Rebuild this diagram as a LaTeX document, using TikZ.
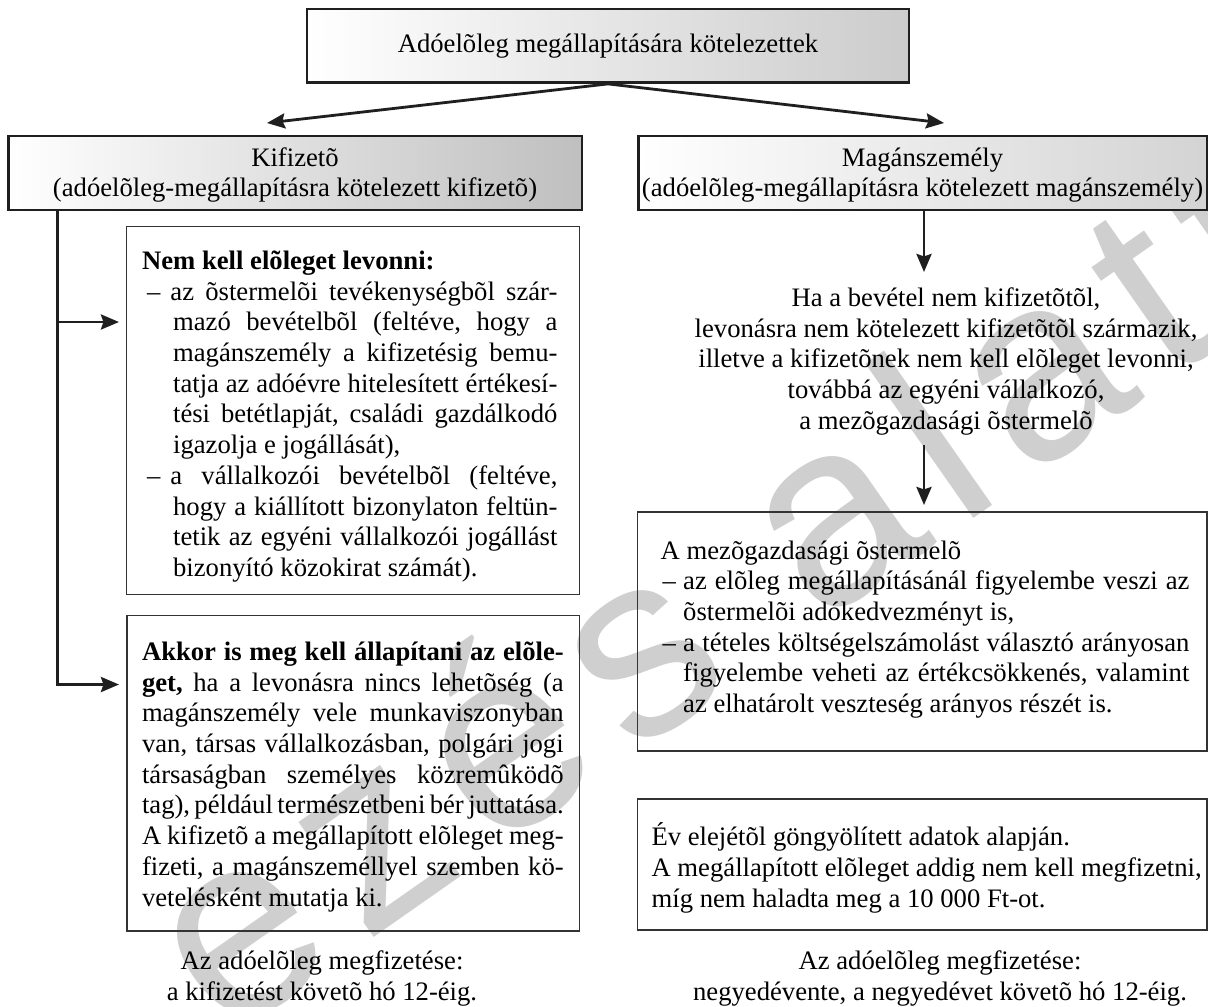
\documentclass[tikz,border=0pt]{standalone}
\usepackage{fontspec}
\setmainfont{Liberation Serif}
\newfontfamily\wmfont[LetterSpace=10]{Liberation Sans}
\usetikzlibrary{arrows.meta}

% line helpers for the text blocks
\newcommand\vstr{\rule{0pt}{12pt}}
\newcommand\jl[1]{\hbox to \hsize{\vstr#1}}          % justified line
\newcommand\rl[1]{\hbox{\vstr#1}}                     % ragged line
\newcommand\cl[1]{\hbox to \hsize{\hss\vstr#1\hss}}   % centred line
\newcommand\txtblk[2]{\vbox{\hsize=#1\relax\frenchspacing
  \baselineskip=15.35pt\lineskiplimit=-\maxdimen\lineskip=0pt
  \spaceskip=0.25em plus 0.35em minus 0.12em\relax #2}}
% list leads: dash and continuation indent
\newcommand\dl{\hbox to 14.2pt{\kern2.5pt\textendash\hss}}
\newcommand\cn{\kern15.5pt}
\newcommand\dr{\hbox to 11.25pt{\kern1pt\textendash\hss}}
\newcommand\cnr{\kern11.25pt}

\begin{document}
\begin{tikzpicture}[x=0.5pt,y=-0.5pt,
  every node/.style={inner sep=0pt, font=\fontsize{13.33}{15.35}\selectfont},
  hdr/.style={draw=black!88, line width=1.2pt},
  ibox/.style={draw=black!80, line width=0.75pt},
  conn/.style={draw=black!88, line width=1.4pt,
    -{Stealth[length=9pt,width=7.5pt,inset=1.2pt]}},
  wm/.style={text=black!19, font=\wmfont\fontsize{130}{130}\selectfont}]

\useasboundingbox (0,0) rectangle (1208,1006);
\fill[white] (0,0) rectangle (1208,1006);

% watermark lettering in the background
\begin{scope}
  \clip (0,0) rectangle (1208,1006);
  \node[wm, rotate=35, anchor=base west] (wmark) at (225,1042) {ezés alatt};
\end{scope}

% header boxes
\node[hdr, left color=white, right color=black!20,
  minimum width=301pt, minimum height=36.7pt] (top) at (608,46) {};
\node[hdr, left color=white, right color=black!25,
  minimum width=286.7pt, minimum height=36.85pt] (kif) at (295,172.85) {};
\node[hdr, left color=white, right color=black!17,
  minimum width=284.25pt, minimum height=36.85pt] (mag) at (922.55,172.85) {};

\node[anchor=base] (topT) at (608,53) {Adóelõleg megállapítására kötelezettek};
\node[anchor=base] (kifA) at (295,166.7) {Kifizetõ};
\node[anchor=base] (kifB) at (295,196) {(adóelõleg-megállapításra kötelezett kifizetõ)};
\node[anchor=base] (magA) at (922.5,166.7) {Magánszemély};
\node[anchor=base] (magB) at (922.5,196) {(adóelõleg-megállapításra kötelezett magánszemély)};

% content boxes
\node[ibox, minimum width=226.3pt, minimum height=183.9pt] (nem) at (353,410.6) {};
\node[ibox, minimum width=226.25pt, minimum height=157.75pt] (akk) at (353.25,773.25) {};
\node[ibox, minimum width=284.65pt, minimum height=119.4pt] (mez) at (922.35,631.6) {};
\node[ibox, minimum width=284.65pt, minimum height=65.45pt] (ev) at (922.35,864.35) {};

% texts of the left column
\node[anchor=north west] (nemT) at (141.7,245) {\txtblk{207.65pt}{%
  \rl{\textbf{Nem kell elõleget levonni:}}
  \jl{\dl az õstermelõi tevékenységbõl szár-}
  \jl{\cn mazó bevételbõl (feltéve, hogy a}
  \jl{\cn magánszemély a kifizetésig bemu-}
  \jl{\cn tatja az adóévre hitelesített értékesí-}
  \jl{\cn tési betétlapját, családi gazdálkodó}
  \rl{\cn igazolja e jogállását),}
  \jl{\dl a vállalkozói bevételbõl (feltéve,}
  \jl{\cn hogy a kiállított bizonylaton feltün-}
  \jl{\cn tetik az egyéni vállalkozói jogállást}
  \rl{\cn bizonyító közokirat számát).}}};

\node[anchor=north west] (akkT) at (141.6,636) {\txtblk{210.85pt}{%
  \jl{\textbf{Akkor is meg kell állapítani az elõle-}}
  \jl{\textbf{get,} ha a levonásra nincs lehetõség (a}
  \jl{magánszemély vele munkaviszonyban}
  \jl{van, társas vállalkozásban, polgári jogi}
  \jl{társaságban személyes közremûködõ}
  \jl{tag), például természetbeni bér juttatása.}
  \jl{A kifizetõ a megállapított elõleget meg-}
  \jl{fizeti, a magánszeméllyel szemben kö-}
  \rl{vetelésként mutatja ki.}}};

\node[anchor=north] (fizL) at (322,945) {\txtblk{250pt}{%
  \cl{Az adóelõleg megfizetése:}
  \cl{a kifizetést követõ hó 12-éig.}}};

% texts of the right column
\node[anchor=north] (haT) at (946,282) {\txtblk{280pt}{%
  \cl{Ha a bevétel nem kifizetõtõl,}
  \cl{levonásra nem kötelezett kifizetõtõl származik,}
  \cl{illetve a kifizetõnek nem kell elõleget levonni,}
  \cl{továbbá az egyéni vállalkozó,}
  \cl{a mezõgazdasági õstermelõ}}};

\node[anchor=north west] (mezT) at (660.3,534.6) {\txtblk{264.35pt}{%
  \rl{A mezõgazdasági õstermelõ}
  \jl{\dr az elõleg megállapításánál figyelembe veszi az}
  \rl{\cnr õstermelõi adókedvezményt is,}
  \jl{\dr a tételes költségelszámolást választó arányosan}
  \jl{\cnr figyelembe veheti az értékcsökkenés, valamint}
  \rl{\cnr az elhatárolt veszteség arányos részét is.}}};

\node[anchor=north west] (evT) at (651.2,821.3) {\txtblk{275pt}{%
  \rl{Év elejétõl göngyölített adatok alapján.}
  \rl{A megállapított elõleget addig nem kell megfizetni,}
  \rl{míg nem haladta meg a 10 000 Ft-ot.}}};

\node[anchor=north] (fizR) at (940,945) {\txtblk{280pt}{%
  \cl{Az adóelõleg megfizetése:}
  \cl{negyedévente, a negyedévet követõ hó 12-éig.}}};

% connector end points
\coordinate (kifIn) at (267,123);
\coordinate (magIn) at (944,123);
\coordinate (kifDrop) at (57.3,209.7);
\coordinate (branchA) at (57.3,322);
\coordinate (tipA) at (119,322);
\coordinate (tipB) at (119,684.5);
\coordinate (haIn) at (924,272);
\coordinate (haOut) at (924,445);
\coordinate (mezIn) at (924,505);

% connectors
\draw[conn] (top.south) -- (kifIn);
\draw[conn] (top.south) -- (magIn);
\draw[conn] (kifDrop) |- (tipB);
\draw[conn] (branchA) -- (tipA);
\draw[conn] (mag.south -| haIn) -- (haIn);
\draw[conn] (haOut) -- (mezIn);

\end{tikzpicture}
\end{document}
